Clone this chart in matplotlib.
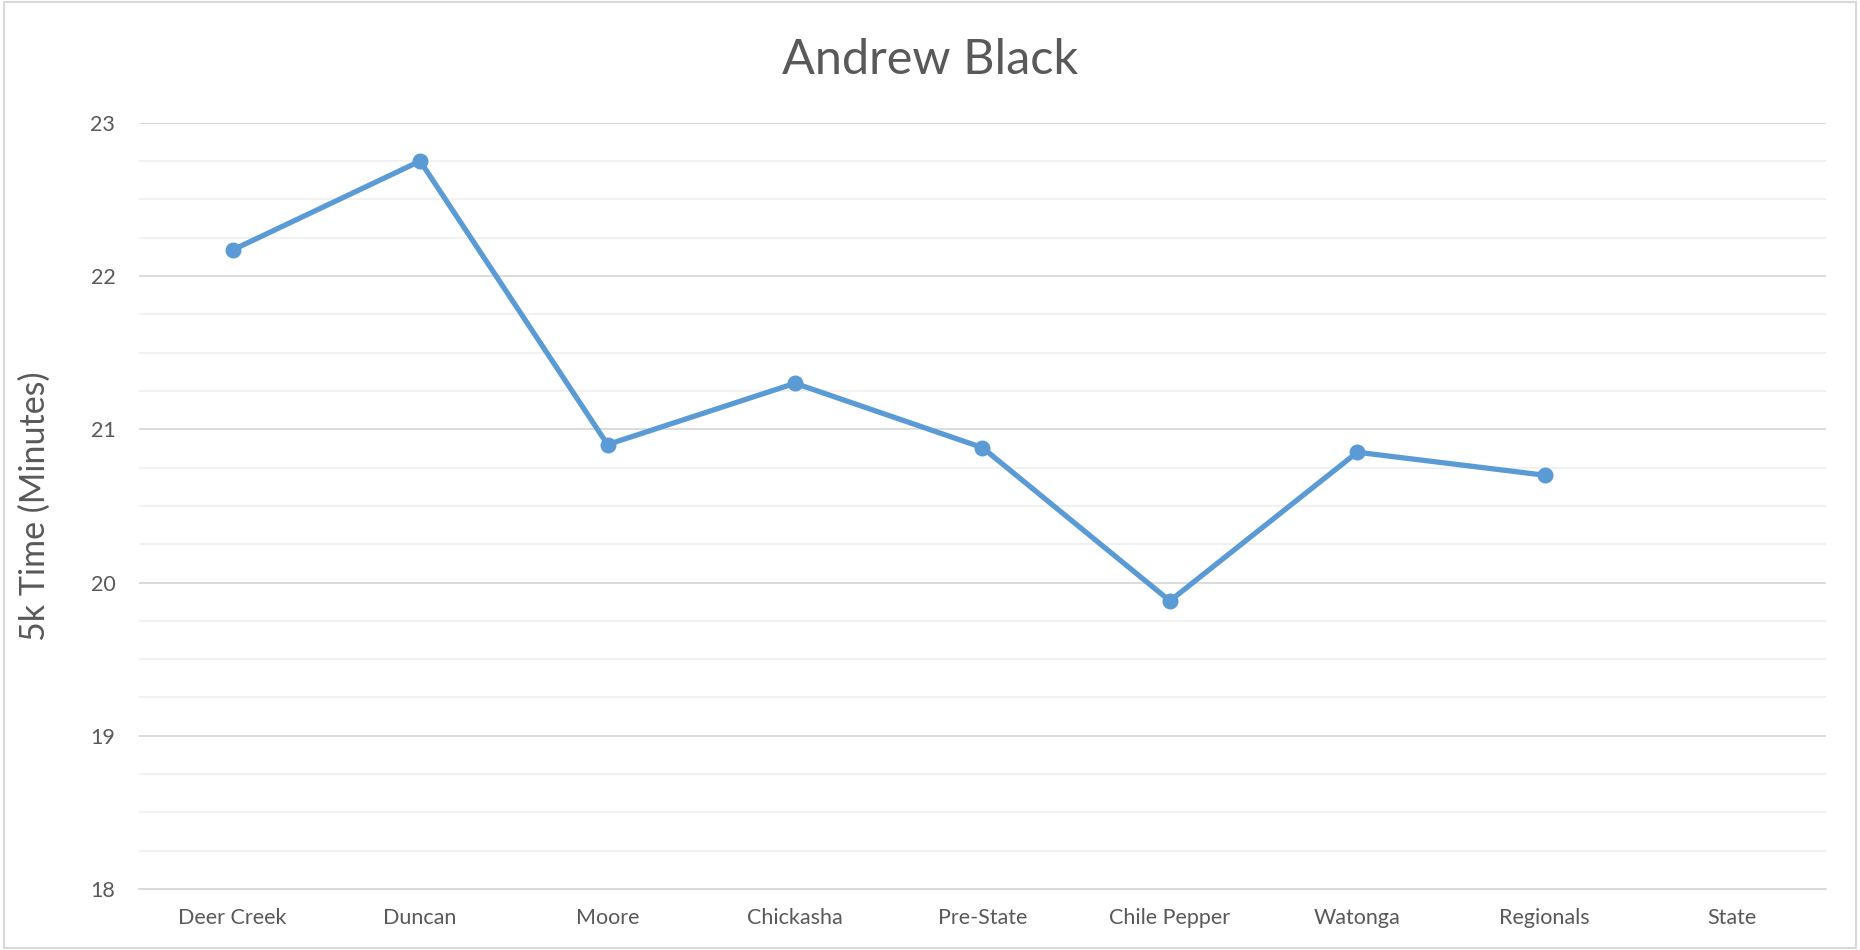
import numpy as np
import matplotlib.pyplot as plt
from matplotlib.ticker import MultipleLocator
from matplotlib.patches import Rectangle

carreras = ["Deer Creek", "Duncan", "Moore", "Chickasha", "Pre-State",
            "Chile Pepper", "Watonga", "Regionals", "State"]
tiempos = [22.17, 22.75, 20.90, 21.30, 20.88, 19.88, 20.85, 20.70, np.nan]

gris = "#595959"
azul = "#5B9BD5"
plt.rcParams['font.family'] = ['Lato', 'DejaVu Sans']

fig = plt.figure(figsize=(18.6, 9.5), dpi=100)
ax = fig.add_axes([0.0747, 0.0642, 0.9070, 0.8066])

x = np.arange(len(carreras))
ax.plot(x, tiempos, color=azul, linewidth=3.8, marker="o", markersize=10.5,
        solid_capstyle="round", zorder=3)

ax.set_xlim(-0.5, len(carreras) - 0.5)
ax.set_ylim(18, 23)
ax.yaxis.set_major_locator(MultipleLocator(1))
ax.yaxis.set_minor_locator(MultipleLocator(0.25))
ax.set_xticks(x)
ax.set_xticklabels(carreras)

ax.grid(which="major", axis="y", color="#D9D9D9", linewidth=1.3)
ax.grid(which="minor", axis="y", color="#F0F0F0", linewidth=1.3)
ax.set_axisbelow(True)
for s in ["top", "right", "left"]:
    ax.spines[s].set_visible(False)
ax.spines["bottom"].set_color("#D9D9D9")
ax.spines["bottom"].set_linewidth(1.3)

ax.tick_params(axis="both", which="both", length=0, labelsize=15.5, labelcolor=gris)
ax.tick_params(axis="y", pad=17)
ax.tick_params(axis="x", pad=14)

ax.set_ylabel("5k Time (Minutes)", fontsize=24.5, color=gris)
ax.yaxis.set_label_coords(-0.052, 0.5)
fig.text(0.5, 0.937, "Andrew Black", ha="center", va="center", fontsize=35, color=gris)

fig.patches.append(Rectangle((0.002, 0.002), 0.996, 0.996, transform=fig.transFigure,
                             fill=False, edgecolor="#D9D9D9", linewidth=1.5))

fig.savefig("out.png", dpi=100)
